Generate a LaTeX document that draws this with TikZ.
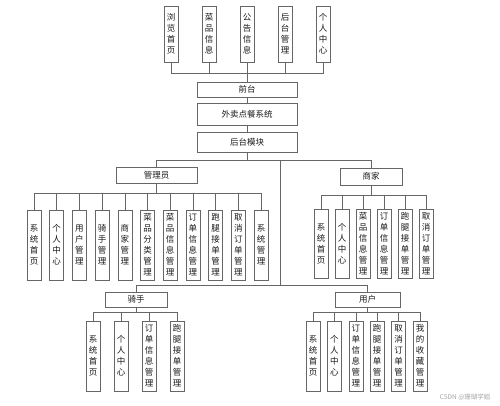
\documentclass[tikz,border=0pt]{standalone}
\usepackage{fontspec}
\setmainfont{Noto Sans CJK SC}
\usepackage{tikz}

\tikzset{
  box/.style={draw=black!60, line width=0.6pt, inner sep=0pt, fill=white,
    font=\fontsize{8.5}{11}\selectfont, text=black!90},
  vbox/.style={box, minimum width=14pt, minimum height=70pt, align=center},
  hbox/.style={box, minimum height=16pt},
  link/.style={draw=black!60, line width=0.6pt}
}

\begin{document}
\begin{tikzpicture}[x=1pt,y=-1pt]
    \fill[white](0,0)rectangle(500,406);
    \useasboundingbox(0,0)rectangle(500,406);
    % front end
    \node[vbox,minimum height=56pt](t1)at(171,34){浏\\览\\首\\页};
    \node[vbox,minimum height=56pt](t2)at(209,34){菜\\品\\信\\息};
    \node[vbox,minimum height=56pt](t3)at(247,34){公\\告\\信\\息};
    \node[vbox,minimum height=56pt](t4)at(285,34){后\\台\\管\\理};
    \node[vbox,minimum height=56pt](t5)at(323,34){个\\人\\中\\心};
    \coordinate(busT)at(247,73);
    \node[hbox,minimum width=100pt,minimum height=15pt](qt)at(247,89.5){前台};
    \node[hbox,minimum width=100pt,minimum height=22pt](sys)at(247,114){外卖点餐系统};
    \node[hbox,minimum width=100pt,minimum height=20pt](ht)at(247,142){后台模块};
    \foreach \n in {t1,t2,t3,t4,t5}
        \draw[link](\n.south)|-(busT);
    \draw[link](busT)--(qt.north);
    \draw[link](qt)--(sys);
    \draw[link](sys)--(ht);
    % back end
    \coordinate(busB)at(247,160);
    \coordinate(trunk)at(280,160);
    \coordinate(busR)at(280,285);
    \node[hbox,minimum width=81pt](gly)at(156.5,175){管理员};
    \node[hbox,minimum width=62pt,minimum height=17pt](sj)at(371,176.5){商家};
    \node[hbox,minimum width=62pt,minimum height=15pt](qs)at(136,299.5){骑手};
    \node[hbox,minimum width=65pt,minimum height=15pt](yh)at(367.5,299.5){用户};
    \draw[link](ht)--(busB);
    \draw[link](busB)-|(gly.north);
    \draw[link](busB)-|(sj.north);
    \draw[link](trunk)--(busR);
    \draw[link](busR)-|(qs.north);
    \draw[link](busR)-|(yh.north);
    % admin
    \coordinate(busA)at(156.5,193);
    \foreach \t [count=\i from 0] in {{系\\统\\首\\页},{个\\人\\中\\心},{用\\户\\管\\理},
        {骑\\手\\管\\理},{商\\家\\管\\理},{菜\\品\\分\\类\\管\\理},{菜\\品\\信\\息\\管\\理},
        {订\\单\\信\\息\\管\\理},{跑\\腿\\接\\单\\管\\理},{取\\消\\订\\单\\管\\理},{系\\统\\管\\理}}{
        \node[vbox](a\i)at({34+22.7*\i},245){\t};
        \draw[link](a\i.north)|-(busA);
    }
    \draw[link](busA)--(gly.south);
    % merchant
    \coordinate(busM)at(371,195);
    \foreach \t [count=\i from 0] in {{系\\统\\首\\页},{个\\人\\中\\心},{菜\\品\\信\\息\\管\\理},
        {订\\单\\信\\息\\管\\理},{跑\\腿\\接\\单\\管\\理},{取\\消\\订\\单\\管\\理}}{
        \node[vbox,minimum height=69pt](m\i)at({321+21*\i},243.5){\t};
        \draw[link](m\i.north)|-(busM);
    }
    \draw[link](busM)--(sj.south);
    % rider
    \coordinate(busQ)at(136,312);
    \foreach \t [count=\i from 0] in {{系\\统\\首\\页},{个\\人\\中\\心},
        {订\\单\\信\\息\\管\\理},{跑\\腿\\接\\单\\管\\理}}{
        \node[vbox](r\i)at({93+28*\i},356){\t};
        \draw[link](r\i.north)|-(busQ);
    }
    \draw[link](busQ)--(qs.south);
    % user
    \coordinate(busY)at(367.5,312);
    \foreach \t [count=\i from 0] in {{系\\统\\首\\页},{个\\人\\中\\心},{订\\单\\信\\息\\管\\理},
        {跑\\腿\\接\\单\\管\\理},{取\\消\\订\\单\\管\\理},{我\\的\\收\\藏\\管\\理}}{
        \node[vbox](u\i)at({313+21.4*\i},356){\t};
        \draw[link](u\i.north)|-(busY);
    }
    \draw[link](busY)--(yh.south);
    \node[text=black!35,font=\fontsize{6.5}{8}\selectfont,anchor=east](wm)at(494,397){CSDN @珊瑚学姐};
\end{tikzpicture}
\end{document}
